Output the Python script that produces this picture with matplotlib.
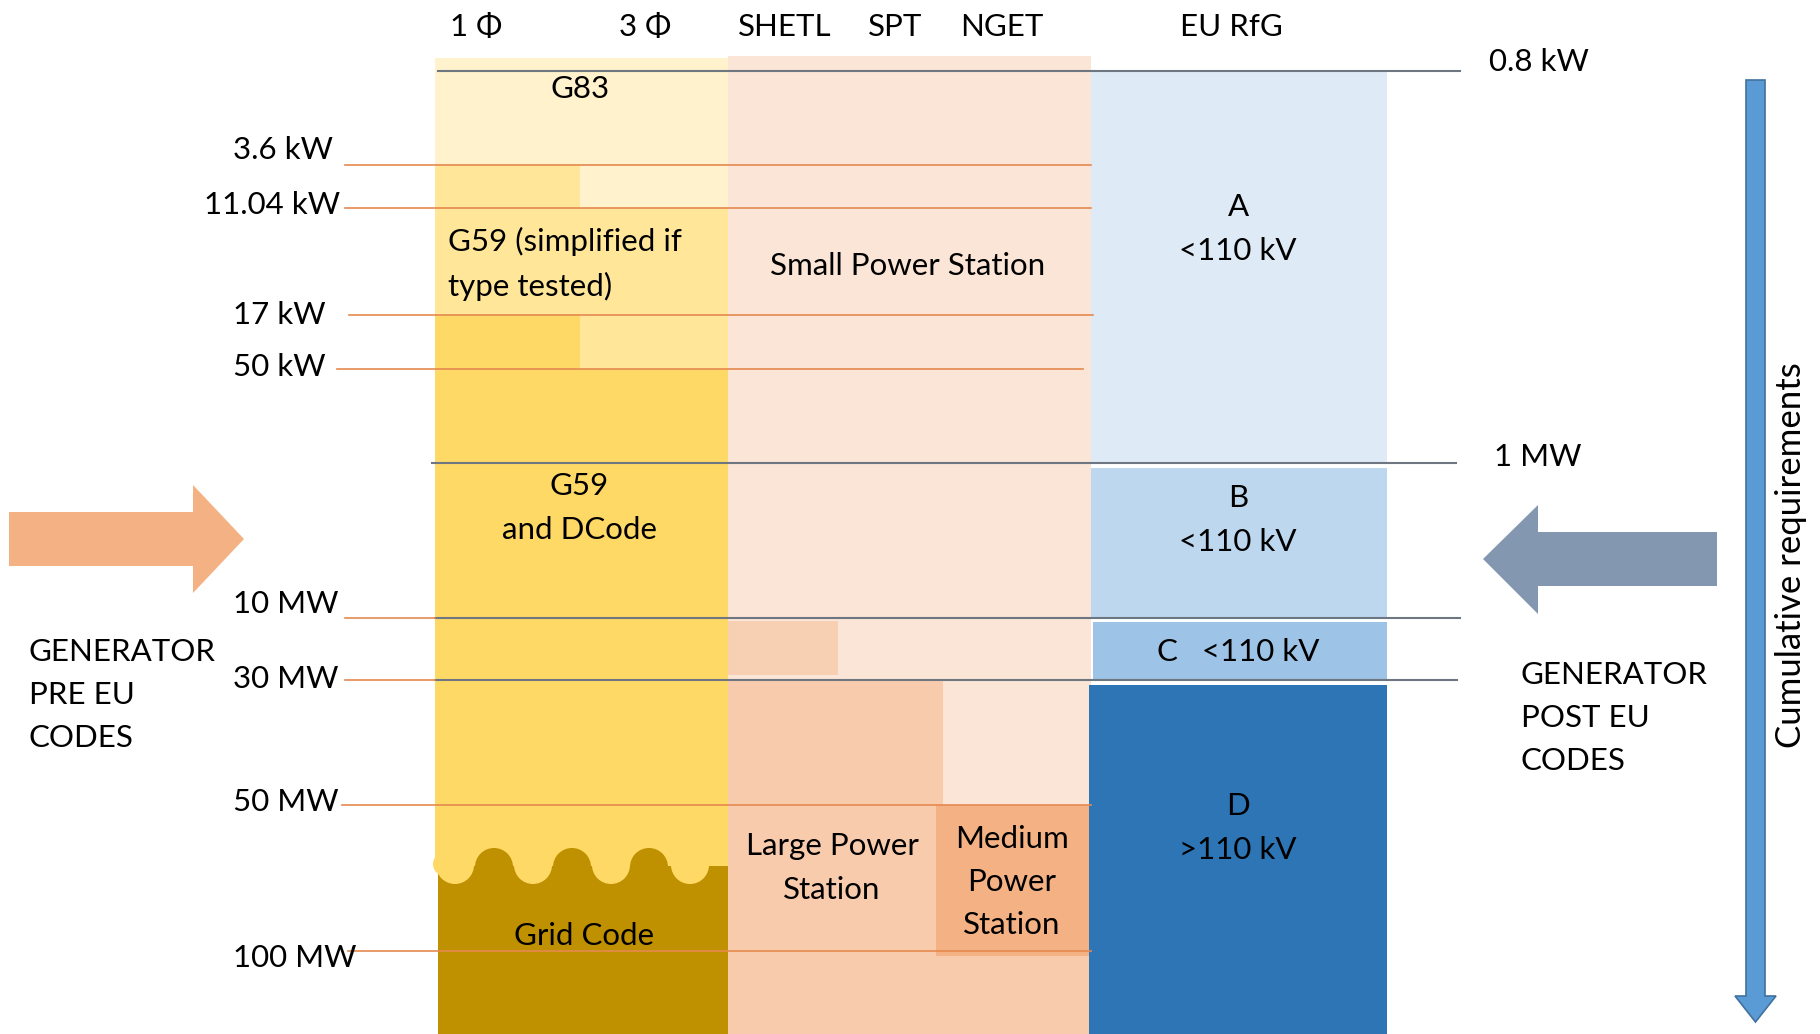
import matplotlib
matplotlib.use("Agg")
import matplotlib.pyplot as plt
from matplotlib.patches import Rectangle, Circle, Polygon

plt.rcParams['font.family'] = ['Lato', 'DejaVu Sans']

# ---------------- data (labels / categories) ----------------
headers = ["1 \u03a6", "3 \u03a6", "SHETL", "SPT", "NGET", "EU RfG"]
threshold_labels = ["3.6 kW", "11.04 kW", "17 kW", "50 kW", "10 MW", "30 MW", "50 MW", "100 MW"]
right_labels = ["0.8 kW", "1 MW"]
rfg_types = ["A", "B", "C", "D"]
rfg_voltage = ["<110 kV", "<110 kV", "<110 kV", ">110 kV"]
pre_codes = ["G83", "G59 (simplified if\ntype tested)", "G59\nand DCode", "Grid Code"]
station_types = ["Small Power Station", "Large Power\nStation", "Medium\nPower\nStation"]
side_texts = ["GENERATOR\nPRE EU\nCODES", "GENERATOR\nPOST EU\nCODES"]
axis_text = "Cumulative requirements"

# ---------------- layout (pixel space of the 1820x1034 canvas) ----------------
W, H = 1820, 1034
fig = plt.figure(figsize=(W / 100, H / 100), dpi=100)
ax = fig.add_axes([0, 0, 1, 1])
ax.set_xlim(0, W)
ax.set_ylim(H, 0)
ax.axis('off')

# column edges
YL, YM, YR = 435, 580, 728      # yellow column (1 phase | 3 phase)
PR = 1091                       # peach column right
BR = 1387                       # blue column right
# threshold y positions
y_08k, y_36k, y_11k, y_17k, y_50k = 71, 165, 208, 315, 369
y_1M, y_10M, y_30M, y_50M, y_100M = 463, 618, 680, 805, 951

# colours
c_y1, c_y2, c_y3, c_gc = "#FFF2CC", "#FFE699", "#FFD966", "#BF9000"
c_p1, c_p2, c_p3 = "#FBE5D6", "#F8CBAD", "#F4B183"
c_bA, c_bB, c_bC, c_bD = "#DEEBF7", "#BDD7EE", "#9DC3E6", "#2E75B6"

def rect(x0, y0, x1, y1, color, z=1):
    ax.add_patch(Rectangle((x0, y0), x1 - x0, y1 - y0, facecolor=color,
                           edgecolor='none', zorder=z))

# ---- yellow (pre EU) column ----
rect(YL, 58, YR, y_36k, c_y1)
rect(YL, y_36k, YM, y_11k, c_y2)
rect(YM, y_36k, YR, y_11k, c_y1)
rect(YL, y_11k, YR, y_17k, c_y2)
rect(YL, y_17k, YM, y_50k, c_y3)
rect(YM, y_17k, YR, y_50k, c_y2)
rect(YL, y_50k, YR, 866, c_y3)
rect(YL + 3, 866, YR, H, c_gc)
# wavy boundary between G59 and Grid Code
for hx in [494, 572, 649]:
    ax.add_patch(Circle((hx, 867), 19, facecolor=c_gc, edgecolor='none', zorder=2))
for dx in [455, 533, 611, 690]:
    ax.add_patch(Circle((dx, 865), 19, facecolor=c_y3, edgecolor='none', zorder=3))
rect(YR, 840, YR + 30, 900, c_p2, z=4)
rect(YL - 30, 840, YL, 900, "white", z=4)
ax.add_patch(Circle((YL + 10, 864), 12, facecolor=c_y3, edgecolor='none', zorder=4))

# ---- peach (UK station classes) column ----
rect(YR, 56, PR, H, c_p1)
rect(YR, y_10M + 3, 838, y_30M - 5, "#F7CFB3")
rect(YR, y_30M, 943, H, c_p2)
rect(YR, y_100M, PR, H, c_p2)
rect(936, y_50M, PR, 956, c_p3)

# ---- blue (EU RfG) column ----
rect(PR, y_08k, BR, y_1M, c_bA)
rect(PR, y_1M + 5, BR, y_10M, c_bB)
rect(PR + 2, y_10M + 4, BR, y_30M, c_bC)
rect(PR - 2, y_30M + 5, BR, H, c_bD)

# ---- threshold lines ----
orange = "#E5894F"
gray = "#6E7681"
for y, x0, x1 in [(y_36k, 345, PR), (y_11k, 345, PR), (y_17k, 349, 1093),
                  (y_50k, 337, 1083), (y_50M, 342, PR), (y_100M, 348, PR)]:
    ax.plot([x0, x1], [y, y], color=orange, lw=1.2, zorder=6)
for y, x0, x1 in [(y_08k, 438, 1460), (y_1M, 432, 1456), (y_10M, 435, 1460), (y_30M, 435, 1457)]:
    ax.plot([x0, x1], [y, y], color=gray, lw=1.5, zorder=6)
for y in [y_10M, y_30M]:
    ax.plot([345, 435], [y, y], color=orange, lw=1.2, zorder=6)

# ---- texts ----
fs = 22.5
ls = 1.67
for lab, x in zip(headers, [476, 645, 785, 895, 1002, 1231]):
    ax.text(x, 27, lab, ha='center', va='center', fontsize=fs, zorder=10)

left_pos = [(233, 150), (204, 205), (233, 315), (233, 367),
            (233, 604), (233, 679), (233, 802), (233, 958)]
for lab, (x, y) in zip(threshold_labels, left_pos):
    ax.text(x, y, lab, ha='left', va='center', fontsize=fs, zorder=10)

for lab, (x, y) in zip(right_labels, [(1489, 62), (1494, 457)]):
    ax.text(x, y, lab, ha='left', va='center', fontsize=fs, zorder=10)

ax.text(580, 89, pre_codes[0], ha='center', va='center', fontsize=fs, zorder=10)
ax.text(448, 264, pre_codes[1], ha='left', va='center', fontsize=fs,
        linespacing=ls, zorder=10)
ax.text(579, 508, pre_codes[2], ha='center', va='center', fontsize=fs,
        linespacing=ls, zorder=10)
ax.text(584, 936, pre_codes[3], ha='center', va='center', fontsize=fs, zorder=10)

ax.text(908, 266, station_types[0], ha='center', va='center', fontsize=fs, zorder=10)
ax.text(832, 868, station_types[1], ha='center', va='center', fontsize=fs,
        linespacing=ls, zorder=10)
ax.text(1012, 882, station_types[2], ha='center', va='center', fontsize=fs,
        linespacing=ls, zorder=10)

rfg_y = [229, 520, 652, 828]
for t, v, y in zip(rfg_types, rfg_voltage, rfg_y):
    if t == "C":
        s = f"{t}   {v}"
    else:
        s = f"{t}\n{v}"
    ax.text(1238, y, s, ha='center', va='center', fontsize=fs,
            linespacing=ls, zorder=10)

ax.text(29, 695, side_texts[0], ha='left', va='center', fontsize=fs,
        linespacing=ls, zorder=10)
ax.text(1521, 718, side_texts[1], ha='left', va='center', fontsize=fs,
        linespacing=ls, zorder=10)

ax.text(1791, 555, axis_text, ha='center', va='center', rotation=90,
        fontsize=25, zorder=10)

# ---- arrows ----
ax.add_patch(Polygon([(9, 512), (193, 512), (193, 485), (244, 539), (193, 593),
                      (193, 566), (9, 566)], closed=True, facecolor="#F4B183",
                     edgecolor='none', zorder=5))
ax.add_patch(Polygon([(1717, 532), (1538, 532), (1538, 505), (1483, 559), (1538, 614),
                      (1538, 586), (1717, 586)], closed=True, facecolor="#8497B0",
                     edgecolor='none', zorder=5))
ax.add_patch(Polygon([(1746, 80), (1765, 80), (1765, 996), (1776, 996), (1755.5, 1022),
                      (1735, 996), (1746, 996)], closed=True, facecolor="#5B9BD5",
                     edgecolor="#41719C", lw=1.2, zorder=5))

fig.savefig("out.png", dpi=100)
